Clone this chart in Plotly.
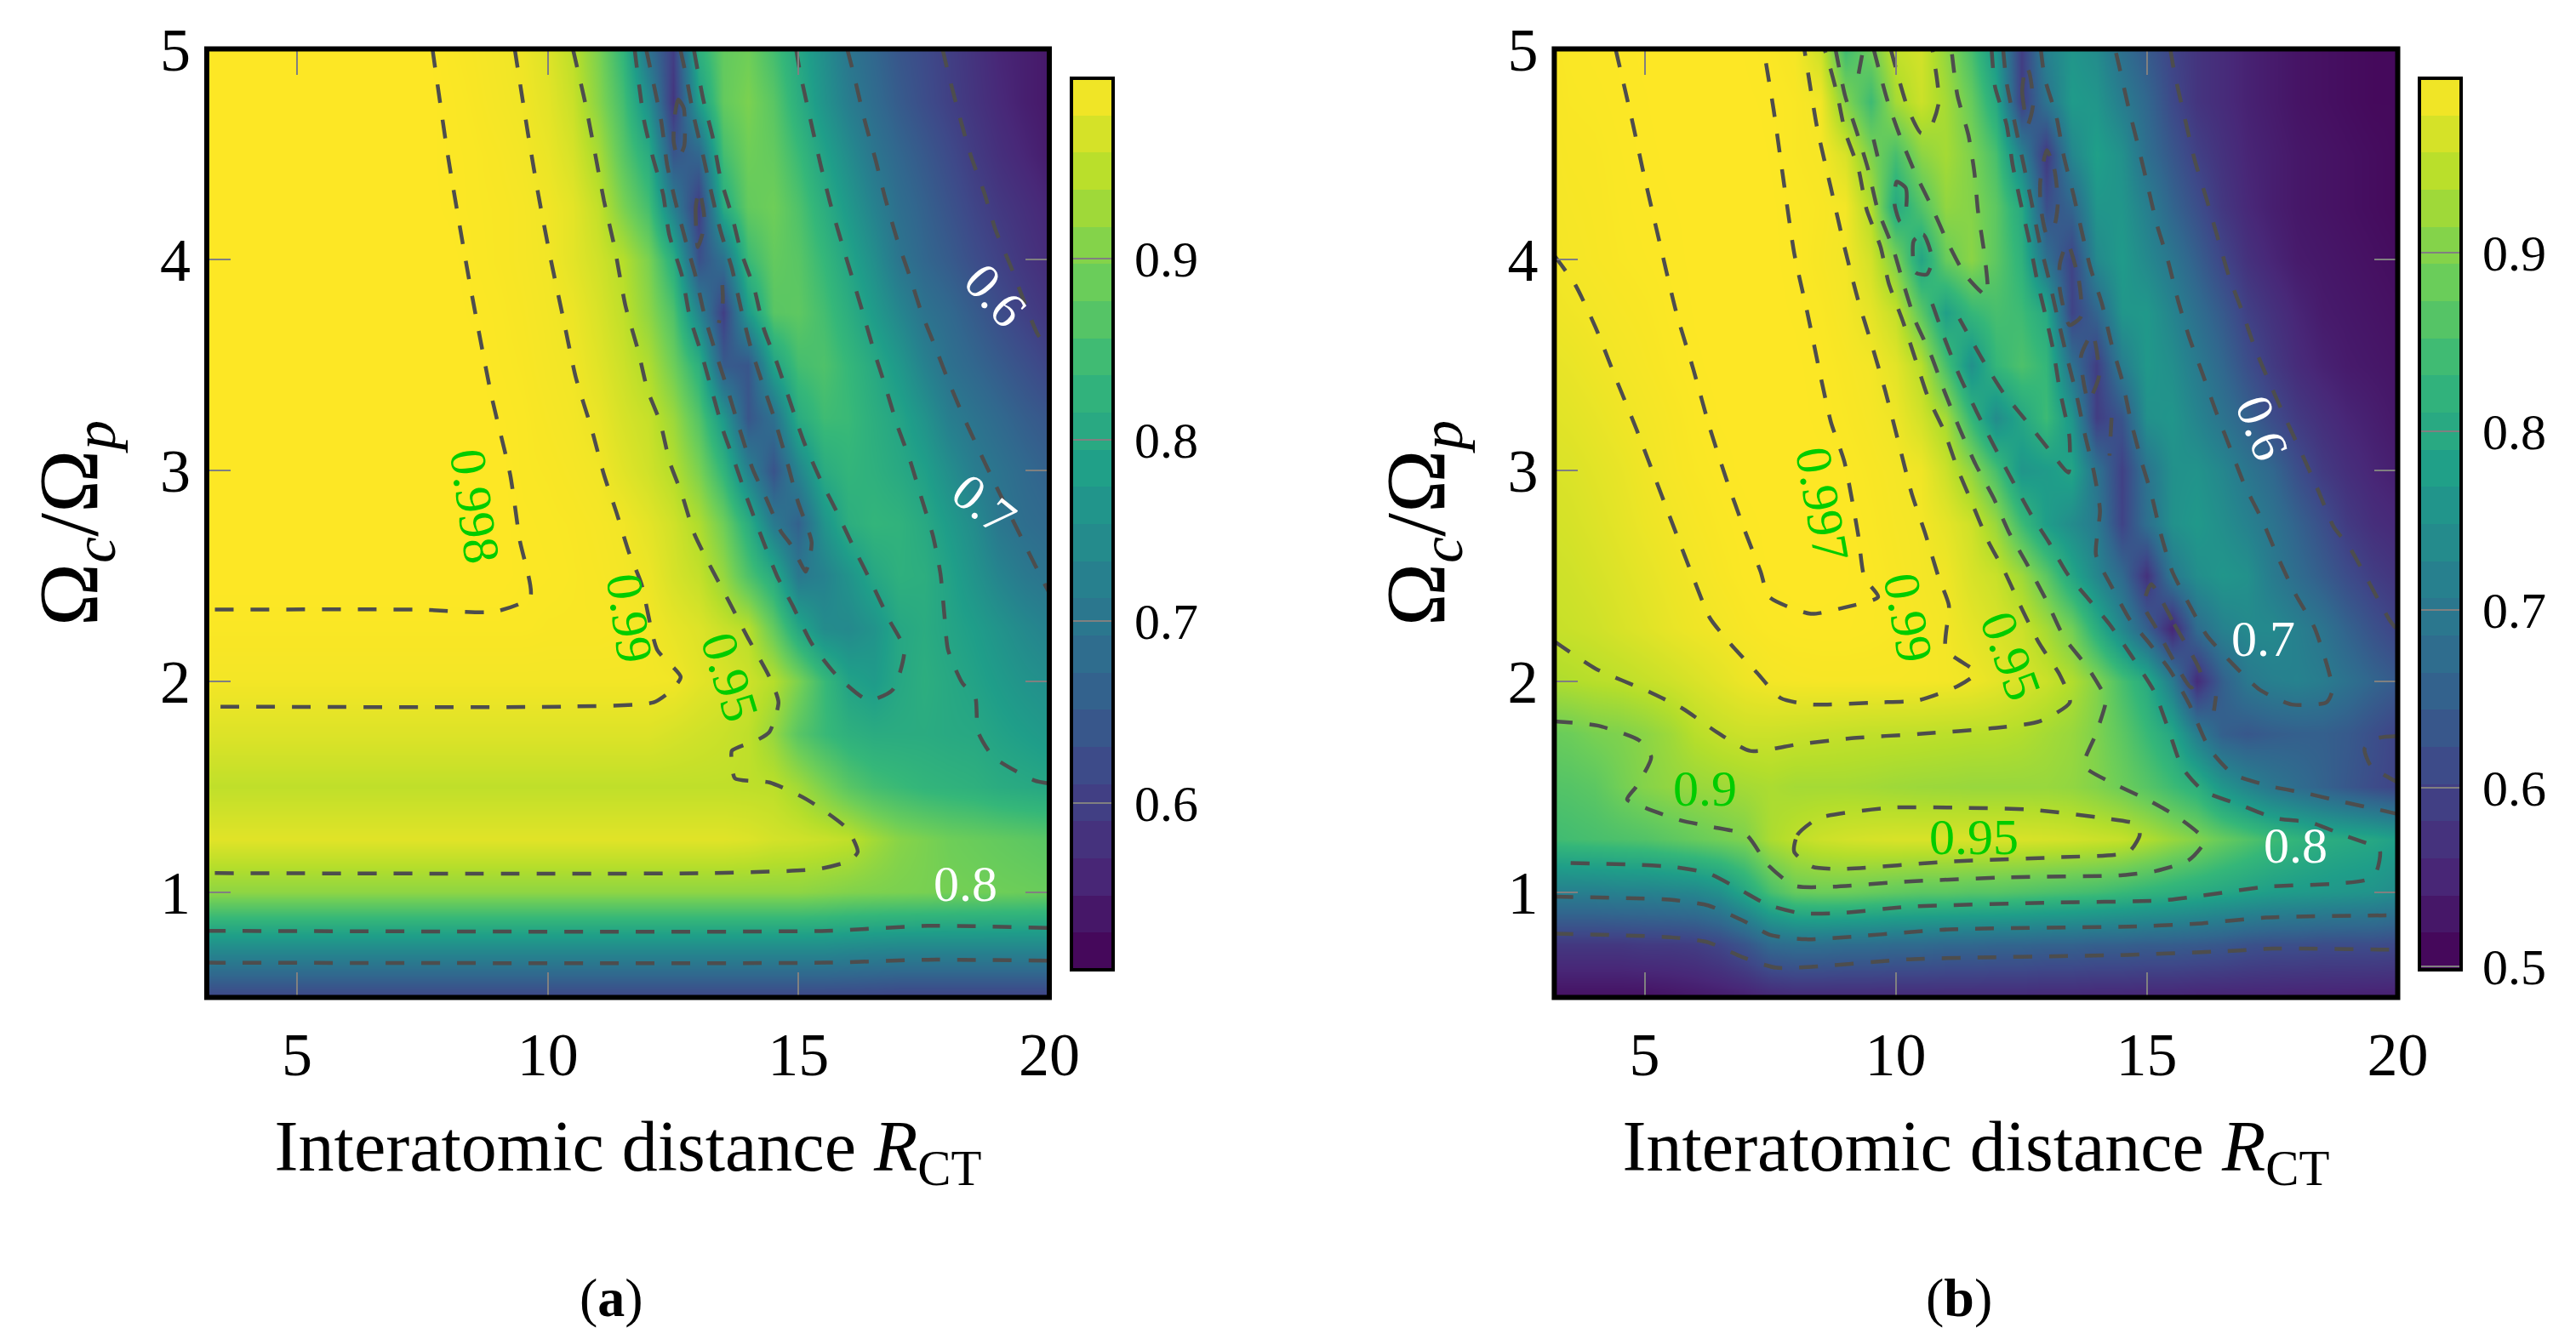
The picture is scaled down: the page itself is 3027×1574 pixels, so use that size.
import plotly.graph_objects as go

X_GRID = [3, 3.5, 4, 4.5, 5, 5.5, 6, 6.5, 7, 7.5, 8, 8.5, 9, 9.5, 10, 10.5, 11, 11.5, 12, 12.5,
          13, 13.5, 14, 14.5, 15, 15.5, 16, 16.5, 17, 17.5, 18, 18.5, 19, 19.5, 20]
Y_GRID = [5, 4.75, 4.5, 4.25, 4, 3.75, 3.5, 3.25, 3, 2.75, 2.5, 2.25, 2, 1.75, 1.5, 1.25, 1, 0.75, 0.5]

# panel (a), percent, rows from y=5 down to y=0.5
Z_A = [
 [100,100,100,100,100,100,100,100,100,100, 99.7,99.5,99.2,98.8,97.5, 95,90,83,69,60, 82,88,89,85,80, 75,70,67,64,62, 60,58,56,55,54],
 [100,100,100,100,100,100,100,100,100,100, 99.8,99.6,99.3,99,98, 96,91,85,75,58.5, 78,88,90,87,81.5, 76,71.5,68,65,62.5, 60.3,58.3,56.5,55,54],
 [100,100,100,100,100,100,100,100,100,100, 99.8,99.7,99.5,99.2,98.5, 97,93.5,87,81,64, 67,85,89,88,84, 79,74.5,70,67,64.5, 62,59.5,57.5,56,54.5],
 [100,100,100,100,100,100,100,100,100,100, 99.85,99.7,99.6,99.4,99, 98,95.5,90,85,72, 59.5,81,88,89,86, 81.5,77,72.5,68.5,66, 63.5,61,59,57.5,56],
 [100,100,100,100,100,100,100,100,100,100, 100,99.75,99.6,99.4,99.1, 98,96.5,94.5,90,81.5, 63,69,84,88,87, 83.5,79.5,75,70,67, 65,62.5,60.5,58.5,57],
 [100,100,100,100,100,100,100,100,100,100, 100,99.85,99.7,99.5,99.2, 98.7,97.2,95.3,91.5,86, 73,60,77.5,87,87.5, 85,81.5,77.5,73.5,69.5, 67.5,65,62.5,60.3,58.5],
 [100,100,100,100,100,100,100,100,100,100, 100,100,99.75,99.6,99.3, 99.05,97.8,96.2,94,89, 82,65,64,79,85, 86,83.5,80.5,77,72.5, 69,67,65,63,61],
 [100,100,100,100,100,100,100,100,100,100, 100,100,99.85,99.7,99.45, 99.2,98.5,97,95.8,92.5, 86.5,77,64,69,81, 84.5,84,81.5,79.5,76, 71.8,69.5,67.5,65.5,64],
 [100,100,100,100,100,100,100,100,100,100, 100,100,100,99.7,99.6, 99.4,99.1,97.8,96.5,94.5, 90,83,72.5,63.5,73, 81,83,82,80.5,78.5, 75,71.5,69.5,67.5,66],
 [100,100,100,100,100,100,100,100,100,100, 100,100,100,99.78,99.7, 99.6,99.4,99.1,98,96.5, 94,89,81.5,71,66, 76,81.5,83,82.5,80.5, 77.5,74.5,70.3,68.5,67.5],
 [100,100,100,100,100,100,100,100,100,100, 100,100,100,99.82,99.75, 99.65,99.5,99.25,98.7,97, 95.6,92,86,80.8,70.5, 72.5,76,80,82,81.5, 79,76,73,70.7,69.5],
 [99.7,99.7,99.7,99.7,99.7,99.7,99.7,99.7,99.7,99.7, 99.7,99.7,99.7,99.7,99.6, 99.6,99.6,99.5,99.2,98.3, 97.5,96,94.7,88,80, 74.5,74,76,80,81, 79.5,78,76,74,72.5],
 [99.2,99.2,99.2,99.2,99.2,99.2,99.2,99.2,99.2,99.2, 99.2,99.2,99.2,99.2,99.2, 99.2,99.2,99.2,99.2,99.05, 98,97.3,96.3,94.5,90, 84,79,77.5,80,81.5, 80.3,79,77.5,76,75],
 [97.5,97.5,97.5,97.5,97.5,97.5,97.5,97.5,97.5,97.5, 97.5,97.5,97.5,97.5,97.5, 97.5,97.5,97.5,97.5,97, 96.5,96,95.2,92,87, 84,82,81,81,81, 80.5,80.2,79,78,77],
 [95.3,95.3,95.3,95.3,95.3,95.3,95.3,95.3,95.3,95.3, 95.3,95.3,95.3,95.3,95.3, 95.3,95.3,95.3,95.3,95.3, 95.3,95.3,95.2,95,93, 90,87,85,84,83, 82.5,82,81,80.5,80],
 [97.8,97.8,97.8,97.8,97.8,97.8,97.8,97.8,97.8,97.8, 97.8,97.8,97.8,97.8,97.8, 97.8,97.8,97.8,97.8,97.8, 97.8,97.8,97.5,96.8,96.5, 96,95.3,93,91,90, 89,88.5,88,87.5,87],
 [91.5,91.5,91.5,91.5,91.5,91.5,91.5,91.5,91.5,91.5, 91.5,91.5,91.5,91.5,91.5, 91.5,91.5,91.5,91.5,91.5, 91.5,91.5,91.5,91.5,91.5, 91,90.5,90.2,90,89.8, 89.5,89.3,89,88.8,88.5],
 [75.5,75.5,75.5,75.5,75.5,75.5,75.5,75.5,75.5,75.5, 75.5,75.5,75.5,75.5,75.5, 75.5,75.5,75.5,75.5,75.5, 75.5,75.5,75.5,75.5,75.5, 75.5,75,74.7,74.5,74.5, 74.5,74.5,74.5,74.5,74.5],
 [61,61,61,61,61,61,61,61,61,61, 61,61,61,61,61, 61,61,61,61,61, 61,61,61,61,61, 61,61,60.8,60.5,60.5, 60.5,60.5,60.5,60.5,60.5],
]

# panel (b)
Z_B = [
 [99.4,99.55,99.65,99.71,99.8,99.85,99.85,99.8,99.75,99.6, 99.2,96,84,89,95.5, 96.5,91.5,85,76,59, 72,76,74,68,64, 60,57.5,56,54.5,53.5, 52.5,52,51.5,51,51],
 [99.3,99.5,99.55,99.67,99.75,99.85,99.85,99.85,99.8,99.72, 99.5,99,90.5,84,93, 96,93,88,80,59, 69,77,76,71,66.5, 61,57.5,56,54.5,53.5, 52.5,52,51.5,51,51],
 [99.2,99.4,99.45,99.6,99.72,99.8,99.85,99.85,99.85,99.75, 99.5,99.3,97,90,85, 91,93,90,85,72, 58,73,78,75,68, 63.5,59.5,57,55,54, 53,52.5,52,51.5,51],
 [99.1,99.3,99.4,99.55,99.68,99.75,99.8,99.85,99.85,99.8, 99.65,99.45,99.1,94,80, 86,91.5,90.5,87,80, 62,66,76,76,71.5, 66,62,58,55.5,54, 53,52.5,52,51.5,51],
 [98.9,99.2,99.35,99.5,99.6,99.71,99.8,99.85,99.85,99.8, 99.7,99.35,99.02,96.5,90, 79,88,91,87,82, 68.5,60,73.5,77,73.5, 69.5,65,60.5,57,55, 53.5,53,52.5,52,51.5],
 [98.6,98.85,99.1,99.3,99.45,99.65,99.78,99.83,99.85,99.82, 99.74,99.55,99.15,98,95.5, 87,78,83,85,84, 80,60,66,76,76.5, 72.5,68,64,59.5,57, 55,53.5,53,52.5,52],
 [98,98.3,98.7,99.05,99.3,99.55,99.73,99.83,99.85,99.85, 99.8,99.68,99.4,99.1,97.8, 94.5,85,75,83,85.5, 83,68.5,59,71,76.5, 74.5,70.5,66.5,62,58.5, 56,54.5,53.5,53,52.5],
 [97.5,97.8,98.2,98.7,99.05,99.35,99.62,99.78,99.84,99.85, 99.82,99.72,99.52,99.25,98.7, 96.5,93,83,74,79.5, 84,76,59,63,75, 76,72.5,69,65.5,61.5, 58.5,56.5,55,54,53],
 [97,97.2,97.7,98.2,98.8,99.25,99.5,99.68,99.82,99.85, 99.85,99.8,99.68,99.45,99.2, 98.8,96,91.5,85,76, 77,79,69,59.5,69, 75,75.5,73,69.5,66.5, 62,58.5,56.5,55,54],
 [96.5,96.8,97.3,97.9,98.5,98.95,99.3,99.55,99.7,99.82, 99.85,99.82,99.75,99.55,99.3, 99.1,98,96.2,92,84, 77.5,74,70.5,60,68, 75,76.5,74.5,72,69, 65.5,62,58.5,56.5,55.5],
 [96,96.3,96.8,97.4,98,98.6,99.05,99.4,99.65,99.78, 99.85,99.85,99.78,99.65,99.4, 99.15,98.8,97,95.8,92.5, 87,79.5,73,67,57, 70,74.5,76,75,70.5, 67.5,64.5,61.5,59,57.5],
 [95.5,95.8,96.2,96.9,97.5,98.2,98.7,99.05,99.4,99.6, 99.68,99.7,99.7,99.62,99.5, 99.3,99.05,98,97,96, 93,89,81,73,65, 55,67.5,72,73.5,73.5, 71.5,69,65.5,62.5,60],
 [93.5,94,94.5,94.9,95.5,96.2,97,97.8,98.6,99.1, 99.25,99.3,99.3,99.3,99.3, 99.25,99.1,98.8,98,97, 95.9,94,90.5,85,80.5, 70.5,56,65,70,71.5, 72,70.8,68.5,66,64],
 [88,88.5,89.5,90,91,92.5,94.5,95.5,96,96, 95.8,95.6,95.4,95.2,95.1, 95,94.8,94.6,94.5,94, 93,92,90,87,83.5, 79.5,71,65,63.5,64.5, 65,65,64,62,60],
 [86,86.3,87,89,90.5,91.5,92,92.5,93,93.5, 93,93,93,92.8,92.5, 92.3,92.2,92,92,92, 92,91.5,90.3,88.5,86.5, 84,81.5,76,72.5,69.5, 67.5,65.5,63.5,61.5,60],
 [84,84.5,85,85.5,86,87,88,89,90,93.5, 95,96,96.5,96.8,97, 97,97,97,97,97, 96.8,96.5,96,95.5,94, 92,90.3,88,86,84, 82.5,81,80.2,79.5,78],
 [71.5,71.5,71.5,72,72,72.5,73,75,79.5,85, 88,88.5,88.5,88,87.5, 87,87,86.5,86.5,86, 85.5,85,84.5,83.5,82.5, 81.5,80.5,79.5,78.5,77.5, 77,76.5,76,75.5,74],
 [58,58,58,58,58.5,58.5,59,60.5,63,67, 68,68,67.5,67.5,67, 67,66.5,66.5,66,66, 65.5,65.5,65,65,64.5, 64.5,64,63.5,62.5,62, 62,61.5,61.5,61.5,61],
 [52,52,52,52,52,52.5,53,53.5,54,55, 55.5,55.5,55.5,55.5,55.5, 55.5,55.5,55.5,55.5,55.5, 55.2,55.2,55,55,54.8, 54.8,54.5,54.5,54.5,54.5, 54.3,54.3,54.2,54,54],
]
assert all(len(r) == len(X_GRID) for r in Z_A + Z_B) and len(Z_A) == len(Z_B) == len(Y_GRID)

# dashed contour lines, (x, y)
LINES_A = [
 [(7.7,5),(8.01,4.49),(8.45,3.88),(8.88,3.35),(9.25,2.98),(9.44,2.67),(9.65,2.4),(8.94,2.33),(7.45,2.34),(3.2,2.34)],
 [(9.34,5),(9.59,4.62),(9.81,4.31),(10.06,4),(10.31,3.72),(10.56,3.44),(10.87,3.2),(11.12,2.98),(11.37,2.8),(11.62,2.61),(11.87,2.46),(12.18,2.15),(12.65,2.02),(12.43,1.95),(12.11,1.9),(10.44,1.88),(3.2,1.88)],
 [(10.5,5),(10.75,4.74),(10.93,4.52),(11.12,4.28),(11.33,4.06),(11.55,3.78),(11.8,3.57),(11.99,3.38),(12.24,3.23),(12.43,3.04),(12.67,2.89),(12.92,2.7),(13.23,2.55),(13.61,2.38),(13.98,2.21),(14.42,2.02),(14.6,1.9),(14.42,1.76),(14.17,1.72),(13.67,1.67),(13.67,1.62),(13.73,1.54),(14.42,1.52),(15.16,1.44),(15.97,1.3),(16.18,1.19),(16.03,1.15),(15.41,1.11),(13.17,1.09),(3.2,1.09)],
 [(11.73,5),(11.92,4.66),(12.09,4.49),(12.3,4.31),(12.42,4.12),(12.68,3.92),(12.83,3.73),(13.07,3.55),(13.27,3.38),(13.51,3.18),(13.74,3.03),(13.97,2.87),(14.27,2.68),(14.57,2.5),(14.88,2.36),(15.26,2.18),(15.75,2.03),(16.39,1.91),(16.88,1.96),(17.11,2.15),(16.81,2.29),(16.47,2.46),(16.09,2.64),(15.75,2.81),(15.41,2.97),(15.1,3.14),(14.84,3.32),(14.57,3.51),(14.31,3.67),(14.12,3.86),(13.85,4.04),(13.67,4.21),(13.44,4.39),(13.29,4.58),(13.1,4.76),(12.91,5)],
 [(11.96,5),(12.26,4.66),(12.38,4.45),(12.53,4.29),(12.76,4.08),(12.95,3.92),(13.13,3.73),(13.36,3.55),(13.59,3.38),(13.82,3.2),(14.08,3.01),(14.35,2.87),(14.65,2.71),(14.84,2.65),(15.02,2.57),(15.14,2.52),(15.19,2.55),(15.26,2.66),(14.99,2.85),(14.76,3.05),(14.5,3.26),(14.27,3.42),(14.04,3.59),(13.85,3.77),(13.67,3.96),(13.44,4.14),(13.25,4.33),(13.1,4.49),(12.91,4.68),(12.76,4.87),(12.64,5)],
 [(12.53,4.68),(12.6,4.76),(12.71,4.72),(12.72,4.54),(12.6,4.48),(12.51,4.56),(12.53,4.68)],
 [(13.02,4.33),(12.95,4.25),(12.99,4.06),(13.08,4.12),(13.12,4.2),(13.02,4.33)],
 [(13.48,3.88),(13.49,3.8),(13.41,3.7)],
 [(14.95,5),(15.03,4.89),(15.26,4.64),(15.44,4.45),(15.63,4.27),(15.86,4.08),(16.09,3.9),(16.28,3.75),(16.5,3.57),(16.73,3.4),(16.96,3.22),(17.22,3.05),(17.45,2.87),(17.68,2.69),(17.83,2.51),(17.91,2.31),(17.98,2.15),(18.27,1.99),(18.52,1.93),(18.58,1.76),(18.89,1.64),(19.7,1.53),(20,1.515)],
 [(15.97,5),(16.09,4.89),(16.32,4.66),(16.54,4.47),(16.73,4.29),(16.96,4.1),(17.22,3.92),(17.45,3.75),(17.72,3.59),(17.98,3.43),(18.28,3.26),(18.59,3.1),(18.93,2.93),(19.53,2.64),(19.91,2.46),(20,2.42)],
 [(17.87,5),(17.98,4.89),(18.21,4.68),(18.44,4.49),(18.7,4.32),(18.93,4.14),(19.23,3.97),(19.5,3.8),(19.76,3.65),(20,3.57)],
 [(3.2,0.816),(15.56,0.816),(17.58,0.84),(20,0.83)],
 [(3.2,0.665),(15.56,0.665),(17.58,0.679),(20,0.674)],
]
LINES_B = [
 [(4.42,5),(4.76,4.65),(4.96,4.43),(5.29,4.09),(5.63,3.75),(5.97,3.48),(6.3,3.2),(6.64,2.95),(6.97,2.73),(7.31,2.52),(7.48,2.4),(8.31,2.32),(8.98,2.35),(9.65,2.4),(9.38,2.49),(9.25,2.7),(8.98,3.04),(8.71,3.23),(8.51,3.44),(8.24,3.75),(7.98,4.03),(7.77,4.37),(7.57,4.71),(7.37,5)],
 [(3.2,4.02),(3.62,3.88),(4.02,3.68),(4.42,3.44),(4.83,3.2),(5.23,2.95),(5.63,2.7),(5.97,2.49),(6.3,2.3),(6.7,2.18),(7.24,2.04),(7.71,1.92),(8.31,1.89),(9.65,1.9),(10.46,1.91),(11.26,1.98),(11.6,2.04),(11,2.15),(11.06,2.36),(10.86,2.49),(10.59,2.7),(10.32,2.89),(10.05,3.14),(9.79,3.38),(9.52,3.6),(9.25,3.81),(8.98,4.06),(8.71,4.34),(8.44,4.62),(8.18,5)],
 [(3.2,2.19),(4.02,2.06),(5.09,1.95),(5.76,1.87),(6.43,1.76),(7.1,1.67),(8.04,1.7),(9.12,1.73),(10.46,1.75),(12.06,1.78),(12.87,1.81),(13.47,1.9),(13.27,2.03),(12.86,2.18),(12.52,2.34),(12.17,2.52),(11.83,2.67),(11.53,2.84),(11.23,3.01),(10.96,3.19),(10.64,3.35),(10.39,3.53),(10.14,3.71),(9.86,3.89),(9.7,4.06),(9.42,4.24),(9.26,4.43),(8.99,4.61),(8.84,4.78),(8.65,4.95),(8.58,5)],
 [(8.8,5),(8.99,4.78),(9.22,4.61),(9.45,4.43),(9.64,4.24),(9.94,4.06),(10.15,3.89),(10.39,3.71),(10.7,3.55),(10.98,3.37),(11.27,3.2),(11.59,3.03),(11.95,2.87),(12.25,2.71),(12.63,2.55),(13.01,2.38),(13.35,2.21),(13.84,2.06),(14.18,1.92),(14.17,1.885),(13.99,1.75),(13.75,1.6),(14.29,1.52),(15,1.44),(15.59,1.36),(16.07,1.27),(16.13,1.23),(15.83,1.15),(15.18,1.1),(14.52,1.08),(12.26,1.07),(10.24,1.05),(8.7,1.025),(7.98,1.03),(7.45,1.13),(7.03,1.27),(6.32,1.31),(5.72,1.34),(5.01,1.4),(4.65,1.44),(4.83,1.5),(5.13,1.64),(4.89,1.72),(4.06,1.79),(3.2,1.81)],
 [(7.98,1.19),(8.04,1.27),(8.46,1.35),(9.89,1.4),(11.31,1.4),(12.74,1.39),(14.17,1.35),(14.82,1.32),(14.86,1.27),(14.64,1.19),(13.22,1.165),(11.08,1.145),(8.93,1.11),(8.34,1.12),(7.98,1.19)],
 [(10.73,3.79),(11,3.61),(11.27,3.45),(11.61,3.28),(11.95,3.12),(12.33,2.95),(12.7,2.79),(13.05,2.66),(13.42,2.51),(13.84,2.39),(14.26,2.27),(14.67,2.13),(15.13,1.96),(15.24,1.9),(15.45,1.76),(15.71,1.59),(16.13,1.48),(16.9,1.41),(17.56,1.35),(18.27,1.33),(18.92,1.27),(19.64,1.2),(19.58,1.1),(19.4,1.06),(18.81,1.04),(17.38,1.025),(16.01,0.98),(15.3,0.96),(13.1,0.95),(10.24,0.93),(8.88,0.9),(8.1,0.9),(7.45,0.94),(6.91,1.01),(6.26,1.09),(5.54,1.12),(4.77,1.13),(3.2,1.14)],
 [(11.91,5),(11.98,4.82),(12.21,4.64),(12.33,4.45),(12.48,4.28),(12.67,4.08),(12.82,3.9),(12.99,3.73),(13.14,3.57),(13.27,3.38),(13.46,3.16),(13.44,2.99),(13.05,3.1),(12.55,3.25),(12.14,3.37),(11.72,3.53),(11.27,3.72)],
 [(9.56,5),(9.83,4.76),(10.08,4.59),(10.39,4.41),(10.7,4.26),(11.04,4.08),(11.38,3.93),(11.8,3.83),(11.83,3.88),(11.76,4.04),(11.64,4.23),(11.57,4.41),(11.45,4.59),(11.23,4.78),(11.11,5)],
 [(9.9,5),(10.24,4.72),(10.51,4.6),(10.7,4.63),(10.86,4.75),(10.73,5)],
 [(9.56,4.57),(9.64,4.49)],
 [(9.33,4.97),(9.26,4.88)],
 [(10.02,4.37),(10.2,4.34),(10.2,4.23),(10.09,4.18),(9.98,4.26),(10.02,4.37)],
 [(10.36,4.09),(10.55,4.12),(10.73,4),(10.62,3.93),(10.39,3.94),(10.36,4.09)],
 [(12.14,5),(12.21,4.84),(12.38,4.64),(12.55,4.45),(12.7,4.28),(12.86,4.09),(13.05,3.91),(13.23,3.72),(13.41,3.54),(13.61,3.35),(13.77,3.17),(13.95,2.99),(14.07,2.81),(13.99,2.6),(14.3,2.45),(14.67,2.29),(15.02,2.19),(15.47,2.05),(15.85,1.89),(16.25,1.68),(16.72,1.56),(17.5,1.5),(18.15,1.47),(18.87,1.43),(19.64,1.39),(20,1.37)],
 [(12.89,5),(12.97,4.86),(13.2,4.68),(13.35,4.49),(13.54,4.31),(13.71,4.13),(13.88,3.96),(14.11,3.79),(14.3,3.6),(14.52,3.42),(14.67,3.25),(14.9,3.04),(15.09,2.89),(15.28,2.7),(15.51,2.52),(15.81,2.38),(16.19,2.22),(16.68,2.09),(17.25,1.96),(17.89,1.89),(18.58,1.9),(18.7,1.96),(18.35,2.25),(17.97,2.41),(17.63,2.58),(17.29,2.77),(16.95,2.93),(16.64,3.12),(16.38,3.28),(16.11,3.46),(15.85,3.63),(15.62,3.81),(15.43,3.99),(15.2,4.17),(15.02,4.35),(14.83,4.54),(14.64,4.72),(14.45,4.92),(14.37,5)],
 [(15.47,5),(15.55,4.89),(15.77,4.66),(15.96,4.47),(16.19,4.29),(16.42,4.1),(16.64,3.92),(16.91,3.75),(17.14,3.59),(17.44,3.42),(17.74,3.26),(18.05,3.1),(18.39,2.92),(18.73,2.73),(19.03,2.64),(19.84,2.29),(20,2.24)],
 [(3.2,0.978),(5.49,0.964),(6.26,0.937),(6.97,0.863),(7.51,0.796),(8.22,0.776),(11.08,0.823),(14.64,0.836),(16.01,0.85),(17.38,0.879),(20,0.89)],
 [(3.2,0.803),(5.54,0.785),(6.26,0.762),(6.97,0.689),(7.63,0.641),(10.36,0.682),(14.64,0.702),(16.78,0.722),(17.5,0.732),(20,0.726)],
 [(20,1.74),(19.6,1.73),(19.34,1.68),(19.46,1.6),(20,1.52)],
 [(12.6,4.92),(12.52,4.8),(12.63,4.64),(12.74,4.74),(12.67,4.88),(12.6,4.92)],
 [(13.01,4.52),(13.16,4.43),(13.23,4.27),(13.16,4.16),(13.01,4.12),(12.89,4.25),(12.88,4.37),(13.01,4.52)],
 [(13.42,4.08),(13.65,3.9),(13.69,3.73),(13.46,3.69),(13.27,3.86),(13.27,3.98),(13.42,4.08)],
 [(13.92,3.65),(14.05,3.45),(13.84,3.33),(13.69,3.54),(13.92,3.65)],
 [(14.3,3.25),(14.26,3.07)],
 [(15.09,2.46),(15.55,2.27),(16.08,2.03),(15.89,1.97),(15.51,2.11),(15.17,2.26),(14.94,2.36),(15.09,2.46)],
 [(16.38,1.93),(16.34,1.86)],
]

# contour labels: text, x, y, angle, colour
GREEN = "#00cc00"
WHITE = "#ffffff"
LABELS_A = [("0.998",8.54,2.83,82,GREEN),("0.99",11.62,2.3,82,GREEN),("0.95",13.63,2.02,73,GREEN),
            ("0.6",18.92,3.83,48,WHITE),("0.7",18.7,2.84,39,WHITE),("0.8",18.33,1.04,0,WHITE)]
LABELS_B = [("0.997",8.54,2.84,80,GREEN),("0.99",10.24,2.3,80,GREEN),("0.95",12.29,2.12,70,GREEN),
            ("0.6",17.29,3.2,69,WHITE),("0.7",17.33,2.2,0,WHITE),("0.8",17.97,1.22,0,WHITE),
            ("0.95",11.55,1.26,0,GREEN),("0.9",6.2,1.49,0,GREEN)]

X_TICKS = [5, 10, 15, 20]
Y_TICKS = [1, 2, 3, 4, 5]
RANGE_A = [0.508, 0.9993]
RANGE_B = [0.498, 0.998]
BAR_TICKS_A = [0.6, 0.7, 0.8, 0.9]
BAR_TICKS_B = [0.5, 0.6, 0.7, 0.8, 0.9]
BAR_BANDS = 24
CAPTIONS = ["(<b>a</b>)", "(<b>b</b>)"]

W, H = 3027, 1574
FONT = "Liberation Serif"
GRAY = "#808080"
LINE = "#4d4d4d"

fig = go.Figure()
layout = dict(width=W, height=H, margin=dict(l=0, r=0, t=0, b=0, autoexpand=False), autosize=False,
              paper_bgcolor="white", plot_bgcolor="white", showlegend=False,
              font=dict(family=FONT, color="black"), shapes=[], annotations=[])

def hor(a, b): return [a / W, b / W]
def ver(top, bottom): return [1 - bottom / H, 1 - top / H]

panels = [
    dict(n="", bar="3", z=Z_A, rng=RANGE_A, lines=LINES_A, labels=LABELS_A, bt=BAR_TICKS_A,
         dom=hor(243, 1233), bdom=hor(1259, 1308), cap=718),
    dict(n="2", bar="4", z=Z_B, rng=RANGE_B, lines=LINES_B, labels=LABELS_B, bt=BAR_TICKS_B,
         dom=hor(1826.4, 2817.5), bdom=hor(2843, 2892), cap=2302),
]
for idx, p in enumerate(panels):
    xa, ya = "x" + p["n"], "y" + p["n"]
    fig.add_trace(go.Heatmap(x=X_GRID, y=Y_GRID[::-1], z=[[v / 100 for v in r] for r in p["z"][::-1]],
                             colorscale="Viridis", zmin=p["rng"][0], zmax=p["rng"][1], zsmooth="best",
                             showscale=False, hoverinfo="skip", xaxis=xa, yaxis=ya))
    for ln in p["lines"]:
        fig.add_trace(go.Scatter(x=[q[0] for q in ln], y=[q[1] for q in ln], mode="lines",
                                 line=dict(color=LINE, width=4.5, dash="22px,20px", shape="spline", smoothing=0.6),
                                 hoverinfo="skip", xaxis=xa, yaxis=ya))
    for t, x, y, ang, col in p["labels"]:
        layout["annotations"].append(dict(text=t, x=x, y=y, xref=xa, yref=ya, showarrow=False, textangle=ang,
                                          xanchor="center", yanchor="middle",
                                          font=dict(family=FONT, size=60, color=col)))
    ax = dict(domain=p["dom"], range=[3.2, 20], tickvals=X_TICKS, ticks="inside", ticklen=30, tickwidth=2,
              tickcolor=GRAY, mirror="ticks", showgrid=False, zeroline=False, showline=False,
              tickfont=dict(family=FONT, size=72), ticklabelstandoff=18, anchor=ya,
              title=dict(text="Interatomic distance <i>R</i><sub>CT</sub>", font=dict(family=FONT, size=84), standoff=38))
    ay = dict(domain=ver(57.5, 1172.5), range=[0.5, 5], tickvals=Y_TICKS, ticks="inside", ticklen=28, tickwidth=2,
              tickcolor=GRAY, mirror="ticks", showgrid=False, zeroline=False, showline=False,
              tickfont=dict(family=FONT, size=72), ticklabelstandoff=18, anchor=xa,
              title=dict(text="Ω<sub><i>c</i></sub>/Ω<sub><i>p</i></sub>", font=dict(family=FONT, size=100), standoff=40))
    layout["xaxis" + p["n"]] = ax
    layout["yaxis" + p["n"]] = ay
    layout["shapes"].append(dict(type="rect", xref=xa + " domain", yref=ya + " domain", x0=0, x1=1, y0=0, y1=1,
                                 line=dict(color="black", width=6), layer="above"))
    layout["annotations"].append(dict(text=CAPTIONS[idx], x=p["cap"] / W, y=1 - 1525 / H,
                                      xref="paper", yref="paper", showarrow=False,
                                      xanchor="center", yanchor="middle",
                                      font=dict(family=FONT, size=64)))
    # stepped colour bar
    xb, yb = "x" + p["bar"], "y" + p["bar"]
    lo, hi = p["rng"]
    edges = [lo + (hi - lo) * i / BAR_BANDS for i in range(BAR_BANDS + 1)]
    levels = [[(i + 0.5) / BAR_BANDS] for i in range(BAR_BANDS)]
    fig.add_trace(go.Heatmap(x=[0, 1], y=edges, z=levels, colorscale="Viridis", zmin=0, zmax=1,
                             showscale=False, hoverinfo="skip", xaxis=xb, yaxis=yb))
    layout["xaxis" + p["bar"]] = dict(domain=p["bdom"], range=[0, 1], visible=False, anchor=yb)
    layout["yaxis" + p["bar"]] = dict(domain=ver(92, 1140), range=[lo, hi], side="right", anchor=xb,
                                      tickvals=p["bt"], ticktext=[f"{v:.1f}" for v in p["bt"]],
                                      ticks="inside", ticklen=49, tickwidth=2, tickcolor=GRAY,
                                      showgrid=False, zeroline=False, showline=False,
                                      tickfont=dict(family=FONT, size=60), ticklabelstandoff=24)
    layout["shapes"].append(dict(type="rect", xref=xb + " domain", yref=yb + " domain", x0=0, x1=1, y0=0, y1=1,
                                 line=dict(color="black", width=4), layer="above"))

fig.update_layout(**layout)
fig.write_html("out.html", config=dict(displayModeBar=False),
               post_script="document.body.style.margin='0';document.body.style.overflow='hidden';")
